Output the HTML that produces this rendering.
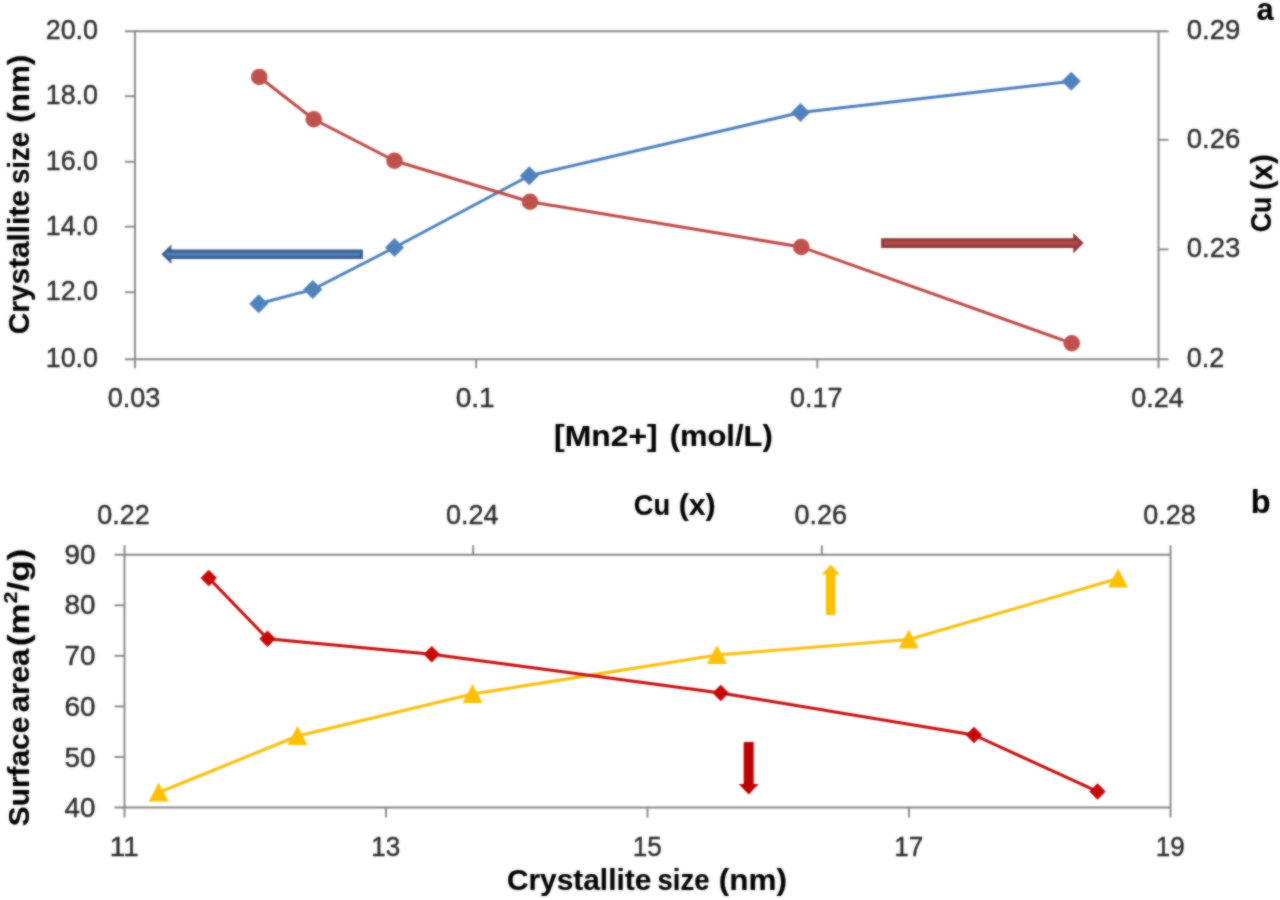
<!DOCTYPE html>
<html><head><meta charset="utf-8"><title>Chart</title>
<style>
html,body{margin:0;padding:0;background:#fff;}
body{width:1280px;height:900px;overflow:hidden;}
svg{display:block;font-family:'Liberation Sans', sans-serif;}
</style></head>
<body>
<svg width="1280" height="900" viewBox="0 0 1280 900">
<rect x="0" y="0" width="1280" height="900" fill="#ffffff"/>
<defs><filter id="soft" filterUnits="userSpaceOnUse" x="0" y="0" width="1280" height="900" color-interpolation-filters="sRGB"><feGaussianBlur stdDeviation="0.8" result="b"/><feComposite in="b" in2="SourceGraphic" operator="arithmetic" k1="0" k2="0.65" k3="0.35" k4="0"/></filter></defs>
<g filter="url(#soft)">
<line x1="125" y1="31.25" x2="1168.5" y2="31.25" stroke="#868686" stroke-width="1.9"/>
<line x1="125" y1="359.2" x2="1168.5" y2="359.2" stroke="#868686" stroke-width="1.9"/>
<line x1="135" y1="31.25" x2="135" y2="368.2" stroke="#868686" stroke-width="1.9"/>
<line x1="1158.5" y1="31.25" x2="1158.5" y2="368.2" stroke="#868686" stroke-width="1.9"/>
<text x="98" y="39.05" font-size="27" text-anchor="end" font-weight="normal" fill="#2a2a2a" textLength="52.3" lengthAdjust="spacingAndGlyphs"  stroke="#2a2a2a" stroke-width="0.4">20.0</text>
<line x1="125" y1="96.2" x2="135" y2="96.2" stroke="#868686" stroke-width="1.9"/>
<text x="98" y="104.0" font-size="27" text-anchor="end" font-weight="normal" fill="#2a2a2a" textLength="52.3" lengthAdjust="spacingAndGlyphs"  stroke="#2a2a2a" stroke-width="0.4">18.0</text>
<line x1="125" y1="161.8" x2="135" y2="161.8" stroke="#868686" stroke-width="1.9"/>
<text x="98" y="169.60000000000002" font-size="27" text-anchor="end" font-weight="normal" fill="#2a2a2a" textLength="52.3" lengthAdjust="spacingAndGlyphs"  stroke="#2a2a2a" stroke-width="0.4">16.0</text>
<line x1="125" y1="226.7" x2="135" y2="226.7" stroke="#868686" stroke-width="1.9"/>
<text x="98" y="234.5" font-size="27" text-anchor="end" font-weight="normal" fill="#2a2a2a" textLength="52.3" lengthAdjust="spacingAndGlyphs"  stroke="#2a2a2a" stroke-width="0.4">14.0</text>
<line x1="125" y1="292.2" x2="135" y2="292.2" stroke="#868686" stroke-width="1.9"/>
<text x="98" y="300.0" font-size="27" text-anchor="end" font-weight="normal" fill="#2a2a2a" textLength="52.3" lengthAdjust="spacingAndGlyphs"  stroke="#2a2a2a" stroke-width="0.4">12.0</text>
<text x="98" y="367.0" font-size="27" text-anchor="end" font-weight="normal" fill="#2a2a2a" textLength="52.3" lengthAdjust="spacingAndGlyphs"  stroke="#2a2a2a" stroke-width="0.4">10.0</text>
<text x="1186.8" y="39.05" font-size="27" text-anchor="start" font-weight="normal" fill="#2a2a2a" textLength="53.5" lengthAdjust="spacingAndGlyphs"  stroke="#2a2a2a" stroke-width="0.4">0.29</text>
<line x1="1158.5" y1="139.8" x2="1168.5" y2="139.8" stroke="#868686" stroke-width="1.9"/>
<text x="1186.8" y="147.60000000000002" font-size="27" text-anchor="start" font-weight="normal" fill="#2a2a2a" textLength="53.5" lengthAdjust="spacingAndGlyphs"  stroke="#2a2a2a" stroke-width="0.4">0.26</text>
<line x1="1158.5" y1="249.4" x2="1168.5" y2="249.4" stroke="#868686" stroke-width="1.9"/>
<text x="1186.8" y="257.2" font-size="27" text-anchor="start" font-weight="normal" fill="#2a2a2a" textLength="53.5" lengthAdjust="spacingAndGlyphs"  stroke="#2a2a2a" stroke-width="0.4">0.23</text>
<text x="1186.8" y="367.0" font-size="27" text-anchor="start" font-weight="normal" fill="#2a2a2a" textLength="37.5" lengthAdjust="spacingAndGlyphs"  stroke="#2a2a2a" stroke-width="0.4">0.2</text>
<text x="134.0" y="406.6" font-size="27" text-anchor="middle" font-weight="normal" fill="#2a2a2a" textLength="52.5" lengthAdjust="spacingAndGlyphs"  stroke="#2a2a2a" stroke-width="0.4">0.03</text>
<line x1="476.1666666666667" y1="359.2" x2="476.1666666666667" y2="368.2" stroke="#868686" stroke-width="1.9"/>
<text x="475.1666666666667" y="406.6" font-size="27" text-anchor="middle" font-weight="normal" fill="#2a2a2a" textLength="39" lengthAdjust="spacingAndGlyphs"  stroke="#2a2a2a" stroke-width="0.4">0.1</text>
<line x1="817.3333333333334" y1="359.2" x2="817.3333333333334" y2="368.2" stroke="#868686" stroke-width="1.9"/>
<text x="816.3333333333334" y="406.6" font-size="27" text-anchor="middle" font-weight="normal" fill="#2a2a2a" textLength="52.5" lengthAdjust="spacingAndGlyphs"  stroke="#2a2a2a" stroke-width="0.4">0.17</text>
<text x="1157.5" y="406.6" font-size="27" text-anchor="middle" font-weight="normal" fill="#2a2a2a" textLength="52.5" lengthAdjust="spacingAndGlyphs"  stroke="#2a2a2a" stroke-width="0.4">0.24</text>
<polyline points="258.75,303.75 312.75,289.5 394.5,247.5 529.25,175.75 800.5,112.5 1071.25,81.25" fill="none" stroke="#4a7ebb" stroke-width="2.9" stroke-linejoin="round" stroke-linecap="round"/>
<polygon points="249.25,303.75 258.75,294.25 268.25,303.75 258.75,313.25" fill="#4f81bd"/>
<polygon points="303.25,289.5 312.75,280.0 322.25,289.5 312.75,299.0" fill="#4f81bd"/>
<polygon points="385.0,247.5 394.5,238.0 404.0,247.5 394.5,257.0" fill="#4f81bd"/>
<polygon points="519.75,175.75 529.25,166.25 538.75,175.75 529.25,185.25" fill="#4f81bd"/>
<polygon points="791.0,112.5 800.5,103.0 810.0,112.5 800.5,122.0" fill="#4f81bd"/>
<polygon points="1061.75,81.25 1071.25,71.75 1080.75,81.25 1071.25,90.75" fill="#4f81bd"/>
<polyline points="259.25,77 313.75,119.25 394.5,160.75 530,201.75 801.25,247 1071.75,343.25" fill="none" stroke="#bb4643" stroke-width="2.9" stroke-linejoin="round" stroke-linecap="round"/>
<circle cx="259.25" cy="77" r="8.3" fill="#c0504d"/>
<circle cx="313.75" cy="119.25" r="8.3" fill="#c0504d"/>
<circle cx="394.5" cy="160.75" r="8.3" fill="#c0504d"/>
<circle cx="530" cy="201.75" r="8.3" fill="#c0504d"/>
<circle cx="801.25" cy="247" r="8.3" fill="#c0504d"/>
<circle cx="1071.75" cy="343.25" r="8.3" fill="#c0504d"/>
<polygon points="361.5,251.0 170.0,251.0 170.0,247.9 163.4,254.3 170.0,260.7 170.0,257.6 361.5,257.6" fill="#4c7db8" stroke="#3b5f8f" stroke-width="2.8" stroke-linejoin="miter"/>
<polygon points="882.5,239.6 1074.6,239.6 1074.6,236.1 1081.6,243.1 1074.6,250.1 1074.6,246.6 882.5,246.6" fill="#b04b48" stroke="#8f3a38" stroke-width="2.8" stroke-linejoin="miter"/>
<text x="605.9" y="446" font-size="29.5" text-anchor="middle" font-weight="bold" fill="#000" textLength="103.6" lengthAdjust="spacingAndGlyphs"  stroke="#000000" stroke-width="0.15">[Mn2+]</text>
<text x="721.2" y="446" font-size="29.5" text-anchor="middle" font-weight="bold" fill="#000" textLength="103.0" lengthAdjust="spacingAndGlyphs"  stroke="#000000" stroke-width="0.15">(mol/L)</text>
<text x="28.7" y="262.2" font-size="29.5" text-anchor="middle" font-weight="bold" fill="#000" textLength="144.2" lengthAdjust="spacingAndGlyphs" transform="rotate(-90 28.7 262.2)"  stroke="#000000" stroke-width="0.15">Crystallite</text>
<text x="28.7" y="158.05" font-size="29.5" text-anchor="middle" font-weight="bold" fill="#000" textLength="52.1" lengthAdjust="spacingAndGlyphs" transform="rotate(-90 28.7 158.05)"  stroke="#000000" stroke-width="0.15">size</text>
<text x="28.7" y="88.75" font-size="29.5" text-anchor="middle" font-weight="bold" fill="#000" textLength="68.1" lengthAdjust="spacingAndGlyphs" transform="rotate(-90 28.7 88.75)"  stroke="#000000" stroke-width="0.15">(nm)</text>
<text x="1271.5" y="214.4" font-size="29.5" text-anchor="middle" font-weight="bold" fill="#000" textLength="35.8" lengthAdjust="spacingAndGlyphs" transform="rotate(-90 1271.5 214.4)"  stroke="#000000" stroke-width="0.15">Cu</text>
<text x="1271.5" y="172.25" font-size="29.5" text-anchor="middle" font-weight="bold" fill="#000" textLength="36.1" lengthAdjust="spacingAndGlyphs" transform="rotate(-90 1271.5 172.25)"  stroke="#000000" stroke-width="0.15">(x)</text>
<text x="1265" y="20.2" font-size="31" text-anchor="middle" font-weight="bold" fill="#000"  stroke="#000000" stroke-width="0.15">a</text>
<line x1="114.5" y1="554.75" x2="1170.5" y2="554.75" stroke="#868686" stroke-width="1.9"/>
<line x1="114.5" y1="807.5" x2="1170.5" y2="807.5" stroke="#868686" stroke-width="1.9"/>
<line x1="124.5" y1="545.25" x2="124.5" y2="817.5" stroke="#868686" stroke-width="1.9"/>
<line x1="1170.5" y1="545.25" x2="1170.5" y2="817.5" stroke="#868686" stroke-width="1.9"/>
<text x="95.6" y="563.55" font-size="27" text-anchor="end" font-weight="normal" fill="#2a2a2a" textLength="31" lengthAdjust="spacingAndGlyphs"  stroke="#2a2a2a" stroke-width="0.4">90</text>
<line x1="114.5" y1="605.3" x2="124.5" y2="605.3" stroke="#868686" stroke-width="1.9"/>
<text x="95.6" y="614.3" font-size="27" text-anchor="end" font-weight="normal" fill="#2a2a2a" textLength="31" lengthAdjust="spacingAndGlyphs"  stroke="#2a2a2a" stroke-width="0.4">80</text>
<line x1="114.5" y1="655.85" x2="124.5" y2="655.85" stroke="#868686" stroke-width="1.9"/>
<text x="95.6" y="665.05" font-size="27" text-anchor="end" font-weight="normal" fill="#2a2a2a" textLength="31" lengthAdjust="spacingAndGlyphs"  stroke="#2a2a2a" stroke-width="0.4">70</text>
<line x1="114.5" y1="706.4" x2="124.5" y2="706.4" stroke="#868686" stroke-width="1.9"/>
<text x="95.6" y="715.8" font-size="27" text-anchor="end" font-weight="normal" fill="#2a2a2a" textLength="31" lengthAdjust="spacingAndGlyphs"  stroke="#2a2a2a" stroke-width="0.4">60</text>
<line x1="114.5" y1="756.95" x2="124.5" y2="756.95" stroke="#868686" stroke-width="1.9"/>
<text x="95.6" y="766.55" font-size="27" text-anchor="end" font-weight="normal" fill="#2a2a2a" textLength="31" lengthAdjust="spacingAndGlyphs"  stroke="#2a2a2a" stroke-width="0.4">50</text>
<text x="95.6" y="817.3" font-size="27" text-anchor="end" font-weight="normal" fill="#2a2a2a" textLength="31" lengthAdjust="spacingAndGlyphs"  stroke="#2a2a2a" stroke-width="0.4">40</text>
<text x="123.5" y="523.5" font-size="27" text-anchor="middle" font-weight="normal" fill="#2a2a2a" textLength="52.5" lengthAdjust="spacingAndGlyphs"  stroke="#2a2a2a" stroke-width="0.4">0.22</text>
<line x1="473.1666666666667" y1="545.25" x2="473.1666666666667" y2="554.75" stroke="#868686" stroke-width="1.9"/>
<text x="472.1666666666667" y="523.5" font-size="27" text-anchor="middle" font-weight="normal" fill="#2a2a2a" textLength="52.5" lengthAdjust="spacingAndGlyphs"  stroke="#2a2a2a" stroke-width="0.4">0.24</text>
<line x1="821.8333333333334" y1="545.25" x2="821.8333333333334" y2="554.75" stroke="#868686" stroke-width="1.9"/>
<text x="820.8333333333334" y="523.5" font-size="27" text-anchor="middle" font-weight="normal" fill="#2a2a2a" textLength="52.5" lengthAdjust="spacingAndGlyphs"  stroke="#2a2a2a" stroke-width="0.4">0.26</text>
<text x="1169.5" y="523.5" font-size="27" text-anchor="middle" font-weight="normal" fill="#2a2a2a" textLength="52.5" lengthAdjust="spacingAndGlyphs"  stroke="#2a2a2a" stroke-width="0.4">0.28</text>
<text x="124.2" y="856.2" font-size="27" text-anchor="middle" font-weight="normal" fill="#2a2a2a" textLength="29" lengthAdjust="spacingAndGlyphs"  stroke="#2a2a2a" stroke-width="0.4">11</text>
<line x1="386.0" y1="807.5" x2="386.0" y2="817.5" stroke="#868686" stroke-width="1.9"/>
<text x="385.7" y="856.2" font-size="27" text-anchor="middle" font-weight="normal" fill="#2a2a2a" textLength="29" lengthAdjust="spacingAndGlyphs"  stroke="#2a2a2a" stroke-width="0.4">13</text>
<line x1="647.5" y1="807.5" x2="647.5" y2="817.5" stroke="#868686" stroke-width="1.9"/>
<text x="647.2" y="856.2" font-size="27" text-anchor="middle" font-weight="normal" fill="#2a2a2a" textLength="29" lengthAdjust="spacingAndGlyphs"  stroke="#2a2a2a" stroke-width="0.4">15</text>
<line x1="909.0" y1="807.5" x2="909.0" y2="817.5" stroke="#868686" stroke-width="1.9"/>
<text x="908.7" y="856.2" font-size="27" text-anchor="middle" font-weight="normal" fill="#2a2a2a" textLength="29" lengthAdjust="spacingAndGlyphs"  stroke="#2a2a2a" stroke-width="0.4">17</text>
<text x="1170.2" y="856.2" font-size="27" text-anchor="middle" font-weight="normal" fill="#2a2a2a" textLength="29" lengthAdjust="spacingAndGlyphs"  stroke="#2a2a2a" stroke-width="0.4">19</text>
<polyline points="158.75,792.5 297.5,736 472.5,694 717,655 908.75,639.5 1118,578.5" fill="none" stroke="#f9be0a" stroke-width="3.1" stroke-linejoin="round" stroke-linecap="round"/>
<polygon points="148.75,801.5 158.75,782.5 168.75,801.5" fill="#ffc000"/>
<polygon points="287.5,745 297.5,726 307.5,745" fill="#ffc000"/>
<polygon points="462.5,703 472.5,684 482.5,703" fill="#ffc000"/>
<polygon points="707,664 717,645 727,664" fill="#ffc000"/>
<polygon points="898.75,648.5 908.75,629.5 918.75,648.5" fill="#ffc000"/>
<polygon points="1108,587.5 1118,568.5 1128,587.5" fill="#ffc000"/>
<polyline points="208.75,578 267.5,638.75 431.75,654.25 720.75,693 974,735 1097.5,791.5" fill="none" stroke="#c20a0a" stroke-width="3.0" stroke-linejoin="round" stroke-linecap="round"/>
<polygon points="200.55,578 208.75,569.8 216.95,578 208.75,586.2" fill="#c80404"/>
<polygon points="259.3,638.75 267.5,630.55 275.7,638.75 267.5,646.95" fill="#c80404"/>
<polygon points="423.55,654.25 431.75,646.05 439.95,654.25 431.75,662.45" fill="#c80404"/>
<polygon points="712.55,693 720.75,684.8 728.95,693 720.75,701.2" fill="#c80404"/>
<polygon points="965.8,735 974,726.8 982.2,735 974,743.2" fill="#c80404"/>
<polygon points="1089.3,791.5 1097.5,783.3 1105.7,791.5 1097.5,799.7" fill="#c80404"/>
<polygon points="825.95,615 825.95,574.5 821.7,574.5 830.7,564.5 839.7,574.5 835.45,574.5 835.45,615" fill="#ffc000"/>
<polygon points="743.7,742 743.7,784.0 738.7,784.0 748.7,794.5 758.7,784.0 753.7,784.0 753.7,742" fill="#c00000"/>
<text x="651.9" y="514.5" font-size="29.5" text-anchor="middle" font-weight="bold" fill="#000" textLength="36.4" lengthAdjust="spacingAndGlyphs"  stroke="#000000" stroke-width="0.15">Cu</text>
<text x="697.2" y="514.5" font-size="29.5" text-anchor="middle" font-weight="bold" fill="#000" textLength="37.0" lengthAdjust="spacingAndGlyphs"  stroke="#000000" stroke-width="0.15">(x)</text>
<text x="579.1" y="890" font-size="29.5" text-anchor="middle" font-weight="bold" fill="#000" textLength="144.4" lengthAdjust="spacingAndGlyphs"  stroke="#000000" stroke-width="0.15">Crystallite</text>
<text x="683.5" y="890" font-size="29.5" text-anchor="middle" font-weight="bold" fill="#000" textLength="52.0" lengthAdjust="spacingAndGlyphs"  stroke="#000000" stroke-width="0.15">size</text>
<text x="752.8" y="890" font-size="29.5" text-anchor="middle" font-weight="bold" fill="#000" textLength="68.2" lengthAdjust="spacingAndGlyphs"  stroke="#000000" stroke-width="0.15">(nm)</text>
<text x="28.7" y="771.5" font-size="29.5" text-anchor="middle" font-weight="bold" fill="#000" textLength="109.6" lengthAdjust="spacingAndGlyphs" transform="rotate(-90 28.7 771.5)"  stroke="#000000" stroke-width="0.15">Surface</text>
<text x="28.7" y="680.5" font-size="29.5" text-anchor="middle" font-weight="bold" fill="#000" textLength="63.6" lengthAdjust="spacingAndGlyphs" transform="rotate(-90 28.7 680.5)"  stroke="#000000" stroke-width="0.15">area</text>
<text x="28.7" y="597.5" font-size="29.5" text-anchor="middle" font-weight="bold" fill="#000" textLength="97.6" lengthAdjust="spacingAndGlyphs" transform="rotate(-90 28.7 597.5)"  stroke="#000000" stroke-width="0.15">(m<tspan font-size="18" dy="-12">2</tspan><tspan dy="12">/g)</tspan></text>
<text x="1260.8" y="513.3" font-size="32.5" text-anchor="middle" font-weight="bold" fill="#000"  stroke="#000000" stroke-width="0.15">b</text>
</g>
</svg>
</body></html>
